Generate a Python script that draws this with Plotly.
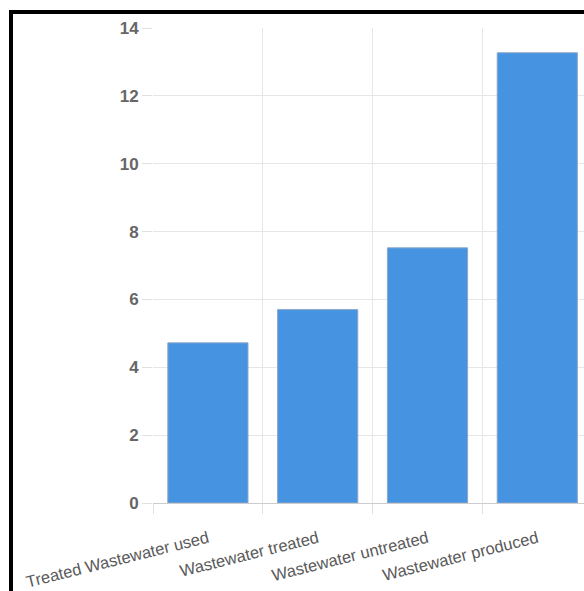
import plotly.graph_objects as go

categories = ["Treated Wastewater used", "Wastewater treated", "Wastewater untreated", "Wastewater produced"]
values = [4.72, 5.70, 7.52, 13.27]
y_ticks = [0, 2, 4, 6, 8, 10, 12, 14]

W, H = 584, 591
ML, MR, MT, MB = 153, 0, 28, 88
pw, ph = W - ML - MR, H - MT - MB

def px_to_paper_x(px):
    return (px - ML) / pw

def px_to_paper_y(py):
    return (H - MB - py) / ph

fig = go.Figure(go.Bar(
    x=categories,
    y=values,
    width=0.73,
    marker=dict(color="#4694e1", line=dict(color="#8aa6c8", width=1)),
))

font_family = "Liberation Sans, Arial, sans-serif"

fig.update_layout(
    width=W, height=H,
    margin=dict(l=ML, r=MR, t=MT, b=MB, pad=0),
    paper_bgcolor="white",
    plot_bgcolor="white",
    showlegend=False,
    font=dict(family=font_family, size=16, color="#606060"),
    bargap=0.27,
)

fig.update_xaxes(
    type="category",
    range=[-0.5, -0.5 + pw / 109.8],
    tickson="boundaries",
    showgrid=True, gridcolor="#e6e6e6", gridwidth=1,
    ticks="outside", ticklen=10, tickcolor="#e0e0e0",
    tickangle=-14,
    ticklabelstandoff=22,
    tickfont=dict(family=font_family, size=16.5, color="#5a5a5a"),
    showline=False,
    zeroline=False,
)

fig.update_yaxes(
    range=[0, 14],
    tickvals=y_ticks,
    showgrid=True, gridcolor="#e6e6e6", gridwidth=1,
    ticks="outside", ticklen=10, tickcolor="#e0e0e0",
    tickfont=dict(family=font_family, size=17, color="#666666", weight="bold"),
    zeroline=True, zerolinecolor="#cccccc", zerolinewidth=1,
    showline=False,
)

# black frame (left and top visible in the crop)
fig.add_shape(
    type="rect", xref="paper", yref="paper",
    x0=px_to_paper_x(11), x1=px_to_paper_x(700),
    y0=px_to_paper_y(700), y1=px_to_paper_y(12),
    line=dict(color="black", width=4),
    fillcolor="rgba(0,0,0,0)",
    layer="above",
)

fig.write_html("out.html")
